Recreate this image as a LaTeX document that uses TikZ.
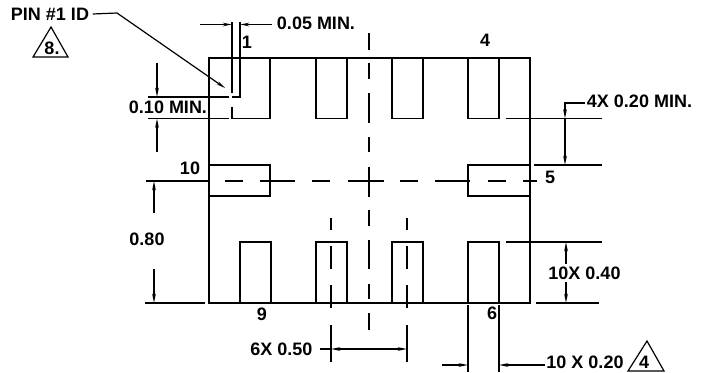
\documentclass[tikz,border=0pt]{standalone}
\usepackage{fontspec}
\setmainfont{Liberation Sans}
\usetikzlibrary{arrows.meta}
\tikzset{
	outline/.style={line width=1.5pt},
	dimtip/.style={-{Stealth[length=9pt,width=3.5pt]}},
	label/.style={inner sep=0pt,font=\fontsize{18}{20}\selectfont\bfseries},
}

\begin{document}
\begin{tikzpicture}[x=1pt,y=-1pt,line width=1.5pt]
	\useasboundingbox (0,0) rectangle (703,372);
	% body and pads
	\draw[outline] (209,58) rectangle (530,303);
	\foreach \x in {316,392,468} \draw[outline] (\x,58) rectangle (\x+31,118.5);
	\foreach \x in {240,316,392,468} \draw[outline] (\x,242) rectangle (\x+31,303);
	\draw[outline] (209,165) rectangle (270,196);
	\draw[outline] (468,165) rectangle (530,196);
	\draw[outline] (232,97) -- (240,97) -- (240,22);
	\draw[outline] (232,107) -- (232,118.5) -- (270,118.5) -- (270,58);
	\draw[outline] (232,22) -- (232,93);
	% centre lines
	\foreach \a/\b in {146/209,225/243,260/295,312/330,348/384,400/418,435/470,488/506,523/537}
		\draw (\a,181) -- (\b,181);
	\foreach \a/\b in {33/50,63/79,93/123,137/152,167/197,210/226,240/269,284/299,313/330}
		\draw (369,\a) -- (369,\b);
	\foreach \x in {331,407} \foreach \a/\b in {218/230,246/269,285/308,325/362}
		\draw (\x,\a) -- (\x,\b);
	% extension lines
	\draw (148,97) -- (229,97);
	\draw (148,118.5) -- (229,118.5);
	\draw (506,118.5) -- (602,118.5);
	\draw (534,165) -- (602,165);
	\draw (145,303) -- (205,303);
	\draw (506,242) -- (602,242);
	\draw (536,303) -- (599,303);
	\draw (468,305) -- (468,372);
	\draw (499,305) -- (499,372);
	% labels
	\node[label] (pin) at (50,14) {PIN \#1 ID};
	\node[label] (eight) at (52,48) {8.};
	\node[label] (minx) at (316,23) {0.05 MIN.};
	\node[label] (miny) at (168,107) {0.10 MIN.};
	\node[label] (one) at (247,42) {1};
	\node[label] (four) at (485,40) {4};
	\node[label] (ten) at (190,168) {10};
	\node[label] (five) at (550,177) {5};
	\node[label] (nine) at (262,314) {9};
	\node[label] (six) at (492,313) {6};
	\node[label] (height) at (147,239) {0.80};
	\node[label] (gapmin) at (639.5,101) {4X 0.20 MIN.};
	\node[label] (padlen) at (584.5,273) {10X 0.40};
	\node[label] (pitch) at (281.5,349) {6X 0.50};
	\node[label] (padw) at (585,362.5) {10 X 0.20};
	\node[label] (note) at (644,362.5) {4};
	% note triangles
	\draw[line width=1.2pt] (51,27) -- (68,57) -- (33,57) -- cycle;
	\draw[line width=1.2pt] (647,341) -- (664,371) -- (628,371) -- cycle;
	% leaders and dimensions
	\coordinate (pinmark) at (225,88);
	\draw[dimtip,line width=1.2pt] (pin.east) ++(3,0) -- (117,13) -- (pinmark);
	\draw[dimtip] (200,24.5) -- (232,24.5);
	\draw[dimtip] (minx.west) ++(-4,1.5) -- (240,24.5);
	\draw[dimtip] (157,63) -- (157,97);
	\draw[dimtip] (157,152) -- (157,118.5);
	\draw[dimtip] (154,213) -- (154,181);
	\draw[dimtip] (154,269) -- (154,303);
	\draw[dimtip] (gapmin.west) ++(-1,2) -- (565,103) -- (565,118.5);
	\draw[dimtip] (565,150) -- (565,165);
	\draw (565,118.5) -- (565,150);
	\draw[dimtip] (566,264) -- (566,242);
	\draw[dimtip] (566,282) -- (566,303);
	\draw[{Stealth[length=9pt,width=3.5pt]}-{Stealth[length=9pt,width=3.5pt]}] (331,349) -- (407,349);
	\draw (320,349) -- (331,349);
	\draw[dimtip] (442,365) -- (468,365);
	\draw[dimtip] (padw.west) ++(-1,2.5) -- (499,365);
\end{tikzpicture}
\end{document}
